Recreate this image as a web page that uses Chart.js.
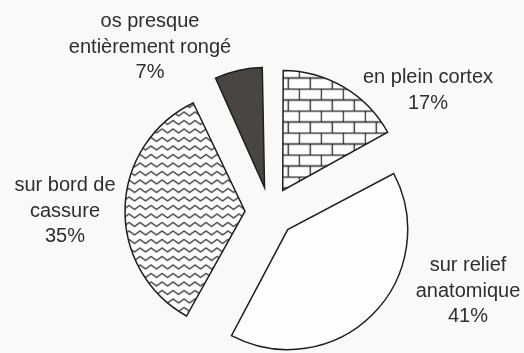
<!DOCTYPE html>
<html>
<head>
<meta charset="utf-8">
<script src="https://cdn.jsdelivr.net/npm/chart.js@4.4.1/dist/chart.umd.min.js"></script>
<style>
  html, body { margin: 0; padding: 0; background: #f9f9f7; }
  #wrap { width: 524px; height: 353px; }
</style>
</head>
<body>
<div id="wrap"><canvas id="myChart"></canvas></div>
<script>
// data
const categories = [
  ['en plein cortex'],
  ['sur relief', 'anatomique'],
  ['sur bord de', 'cassure'],
  ['os presque', 'entièrement rongé']
];
const shares = [17, 41, 35, 7];

// label anchor (first baseline) relative to pie centre
const labelShift = [[158, -129], [198, 59], [-205, -21], [-120, -185]];

function brickPattern() {
  const c = document.createElement('canvas');
  c.width = 22; c.height = 22;
  const g = c.getContext('2d');
  g.fillStyle = '#fdfdfc';
  g.fillRect(0, 0, 22, 22);
  g.strokeStyle = '#222';
  g.lineWidth = 1.3;
  g.beginPath();
  g.moveTo(0, 0.5); g.lineTo(22, 0.5);
  g.moveTo(0, 11.5); g.lineTo(22, 11.5);
  g.moveTo(0.5, 0); g.lineTo(0.5, 11);
  g.moveTo(11.5, 11); g.lineTo(11.5, 22);
  g.stroke();
  return g.createPattern(c, 'repeat');
}

function wavePattern() {
  const c = document.createElement('canvas');
  c.width = 11; c.height = 17;
  const g = c.getContext('2d');
  g.fillStyle = '#fdfdfc';
  g.fillRect(0, 0, c.width, c.height);
  g.strokeStyle = '#222';
  g.lineWidth = 1.1;
  g.lineJoin = 'round';
  for (const y0 of [4.25, 12.75]) {
    g.beginPath();
    g.moveTo(-5.5, y0 + 2);
    g.lineTo(0, y0 - 2);
    g.lineTo(5.5, y0 + 2);
    g.lineTo(11, y0 - 2);
    g.lineTo(16.5, y0 + 2);
    g.stroke();
  }
  return g.createPattern(c, 'repeat');
}

const OFFSET = 100; // chart.js moves an arc by offset/4
const RADIUS = 120;

// keep all slices the same drawn radius (chart.js enlarges offset slices)
const keepRadius = {
  id: 'keepRadius',
  afterDatasetUpdate(chart) {
    chart.getDatasetMeta(0).data.forEach(function (arc) {
      const fix = 1 - Math.sin(Math.min(Math.PI, arc.circumference));
      arc.outerRadius = RADIUS - (OFFSET / 4) * fix;
    });
  }
};

const sliceLabels = {
  id: 'sliceLabels',
  afterDraw(chart) {
    const ctx = chart.ctx;
    const arcs = chart.getDatasetMeta(0).data;
    ctx.save();
    ctx.font = '20px "Liberation Sans", Arial, sans-serif';
    ctx.fillStyle = '#2e2e2e';
    ctx.textAlign = 'center';
    ctx.textBaseline = 'alphabetic';
    arcs.forEach(function (arc, i) {
      const lines = categories[i].concat([shares[i] + '%']);
      const x = arc.x + labelShift[i][0];
      let y = arc.y + labelShift[i][1];
      lines.forEach(function (t) {
        ctx.fillText(t, x, y);
        y += 25.5;
      });
    });
    ctx.restore();
  }
};

const ctx = document.getElementById('myChart');

new Chart(ctx, {
  type: 'pie',
  data: {
    labels: categories,
    datasets: [{
      data: shares,
      backgroundColor: [brickPattern(), '#fdfdfc', wavePattern(), '#4a4541'],
      borderColor: '#1e1e1e',
      borderWidth: 1.5,
      borderJoinStyle: 'miter',
      offset: OFFSET,
      radius: RADIUS
    }]
  },
  options: {
    responsive: true,
    maintainAspectRatio: false,
    animation: false,
    layout: { padding: { left: 16, right: 0, top: 71, bottom: 0 } },
    plugins: {
      legend: { display: false },
      tooltip: { enabled: false }
    }
  },
  plugins: [keepRadius, sliceLabels]
});
</script>
</body>
</html>
